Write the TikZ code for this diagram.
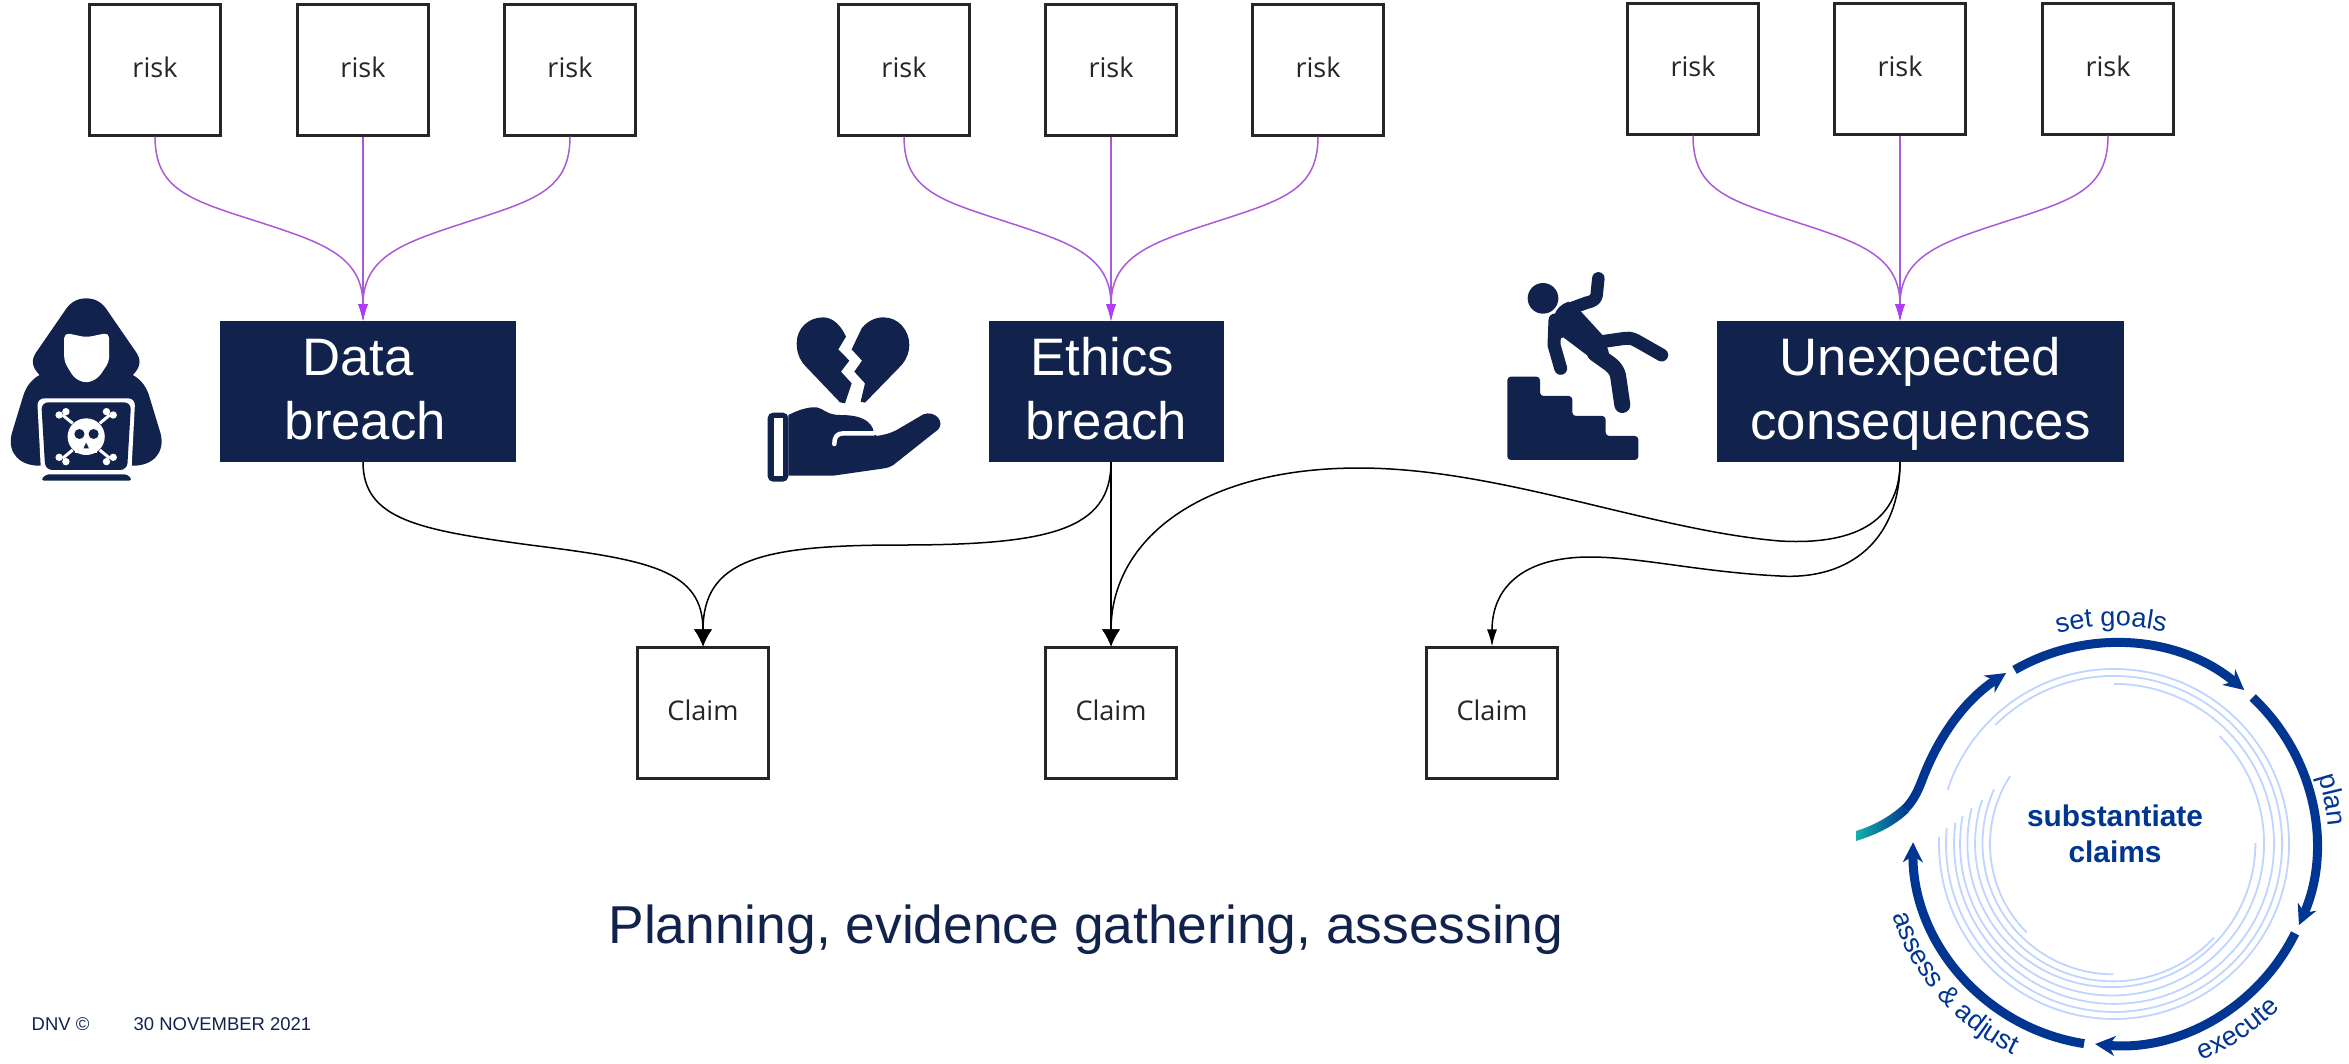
\documentclass[tikz,border=0pt]{standalone}
\usepackage{fontspec}
\setmainfont{Liberation Sans}
\newfontfamily\opensans{Open Sans}
\usetikzlibrary{arrows.meta,decorations.text}
\definecolor{navy}{HTML}{11224D}
\definecolor{cycleblue}{HTML}{003591}
\definecolor{ringblue}{HTML}{BDD5FF}
\definecolor{tailteal}{HTML}{14B0A8}
\definecolor{riskpurple}{HTML}{A95AD8}
\definecolor{tippurple}{HTML}{B23CF5}
\newcommand{\hazardtop}{\rule{0pt}{12.6pt}}
\newcommand{\hazardbot}{\rule[-3.3pt]{0pt}{1pt}}
\newcommand{\cyclefont}{\fontsize{7.7}{9}\selectfont}
\tikzset{
	riskbox/.style={draw=black!85,line width=.03cm,fill=white,minimum width=1.3cm,minimum height=1.3cm,inner sep=0,text height=5.9pt,text depth=1.7pt,font=\opensans\fontsize{7.7}{9}\selectfont,text=black!85},
	hazard/.style={fill=navy,text=white,minimum height=1.41cm,inner sep=0,align=center,font=\fontsize{15}{18.2}\selectfont},
	riskline/.style={draw=riskpurple,line width=.015cm,-{Latex[length=.17cm,width=.1cm,color=tippurple]}},
	claimline/.style={line width=.015cm,-{Latex[length=.17cm,width=.1cm]}},
	wideline/.style={line width=.015cm,-{Latex[length=.17cm,width=.18cm]}},
	cyclearc/.style={draw=cycleblue,line width=.09cm,-{Stealth[length=.2cm,width=.2cm]}},
	ring/.style={draw=ringblue,line width=.018cm},
	cycletext/.style={decorate,decoration={text along path,text align=center,text color=cycleblue,text={|\cyclefont|#1}}},
}
\begin{document}
\begin{tikzpicture}[x=.01cm,y=-.01cm]
	\useasboundingbox (0,0) rectangle (2349,1063);
	\node[riskbox] (R1) at (155,70) {risk};
	\node[riskbox] (R2) at (363,70) {risk};
	\node[riskbox] (R3) at (570,70) {risk};
	\node[riskbox] (R4) at (904,70) {risk};
	\node[riskbox] (R5) at (1111,70) {risk};
	\node[riskbox] (R6) at (1318,70) {risk};
	\node[riskbox] (R7) at (1693,69) {risk};
	\node[riskbox] (R8) at (1900,69) {risk};
	\node[riskbox] (R9) at (2108,69) {risk};
	\node[hazard,minimum width=2.95cm] (D) at (368,391.5) {\hazardtop Data\hspace*{.39em}\\breach\hspace*{.1em}\hazardbot};
	\node[hazard,minimum width=2.35cm] (E) at (1106.5,391.5) {\hazardtop Ethics\hspace*{.15em}\\breach\hazardbot};
	\node[hazard,minimum width=4.07cm] (U) at (1920.5,391.5) {\hazardtop Unexpected\\consequences\hazardbot};
	\node[riskbox] (C1) at (703,713) {Claim};
	\node[riskbox] (C2) at (1111,713) {Claim};
	\node[riskbox] (C3) at (1492,713) {Claim};
	\coordinate (Dt) at (363,321);
	\coordinate (Db) at (363,462);
	\coordinate (Et) at (1111,321);
	\coordinate (Eb) at (1111,462);
	\coordinate (Ut) at (1900,321);
	\coordinate (Ub) at (1900,462);
	% risks into the three breaches
	\draw[riskline] (R1.south) .. controls (155,190) and (190,200) .. (259,222) .. controls (320,242) and (363,255) .. (Dt);
	\draw[riskline] (R2.south) -- (Dt);
	\draw[riskline] (R3.south) .. controls (570,190) and (535,200) .. (467,222) .. controls (406,242) and (363,255) .. (Dt);
	\draw[riskline] (R4.south) .. controls (904,190) and (939,200) .. (1007,222) .. controls (1068,242) and (1111,255) .. (Et);
	\draw[riskline] (R5.south) -- (Et);
	\draw[riskline] (R6.south) .. controls (1318,190) and (1283,200) .. (1215,222) .. controls (1154,242) and (1111,255) .. (Et);
	\draw[riskline] (R7.south) .. controls (1693,190) and (1728,200) .. (1796,222) .. controls (1857,242) and (1900,255) .. (Ut);
	\draw[riskline] (R8.south) -- (Ut);
	\draw[riskline] (R9.south) .. controls (2108,190) and (2073,200) .. (2004,222) .. controls (1943,242) and (1900,255) .. (Ut);
	% breaches into the claims
	\draw[wideline] (Db) .. controls (363,520) and (420,530) .. (530,545) .. controls (650,560) and (703,570) .. (C1.north);
	\draw[wideline] (Eb) .. controls (1111,530) and (1050,545) .. (900,545) .. controls (760,545) and (703,560) .. (C1.north);
	\draw[wideline] (Eb) -- (C2.north);
	\draw[wideline] (Ub) .. controls (1900,525) and (1850,545) .. (1780,541) .. controls (1650,530) and (1500,468) .. (1359,468) .. controls (1200,468) and (1111,540) .. (C2.north);
	\draw[claimline] (Ub) .. controls (1900,540) and (1850,580) .. (1780,576) .. controls (1700,572) and (1640,557) .. (1590,557) .. controls (1520,557) and (1492,590) .. (C3.north);
	% hacker
	\begin{scope}[shift={(0,280)},xscale=.338,yscale=.3333]
		\fill[navy] (255,55) .. controls (225,55) and (205,70) .. (190,95) -- (105,220) .. controls (90,245) and (98,265) .. (117,285) .. controls (90,300) and (75,325) .. (68,350) -- (35,460) .. controls (20,520) and (60,557) .. (115,557) -- (395,557) .. controls (450,557) and (490,520) .. (475,460) -- (442,350) .. controls (435,325) and (420,300) .. (393,285) .. controls (412,265) and (420,245) .. (405,220) -- (320,95) .. controls (305,70) and (285,55) .. (255,55) -- cycle;
		\fill[white,rounded corners=1.5pt] (190,158) -- (255,172) -- (323,158) -- (323,245) -- (290,295) -- (255,310) -- (220,295) -- (190,245) -- cycle;
		\fill[white,rounded corners=2pt] (110,355) -- (400,355) -- (388,590) -- (122,590) -- cycle;
		\fill[navy,rounded corners=2pt] (122,367) -- (388,367) -- (376,570) -- (134,570) -- cycle;
		\fill[navy,rounded corners=1pt] (135,583) -- (378,583) -- (392,602) -- (120,602) -- cycle;
		\draw[white,line width=.03cm] (185,405) -- (215,430) (325,405) -- (295,430) (185,535) -- (215,510) (325,535) -- (295,510);
		\fill[white] (175,405) circle (11) (195,395) circle (11) (335,405) circle (11) (315,395) circle (11) (175,532) circle (11) (195,545) circle (11) (335,532) circle (11) (315,545) circle (11);
		\fill[white] (255,470) circle (55);
		\fill[white] (222,495) rectangle (288,518);
		\fill[navy] (235,462) circle (15) (277,462) circle (15) (255,488) -- (247,505) -- (263,505) -- cycle;
	\end{scope}
	% broken heart on a hand
	\begin{scope}[shift={(740,300)},scale=.3333]
		\fill[navy] (315,310) -- (300,307) -- (195,197) .. controls (175,175) and (170,150) .. (170,130) .. controls (170,85) and (205,52) .. (250,52) .. controls (280,52) and (305,80) .. (318,110) -- (295,148) -- (328,182) -- (303,215) -- (335,250) -- cycle;
		\fill[navy] (375,308) -- (362,305) -- (375,250) -- (343,215) -- (366,182) -- (335,148) -- (365,85) .. controls (385,60) and (410,52) .. (430,52) .. controls (475,52) and (508,90) .. (508,135) .. controls (508,155) and (500,178) .. (485,195) -- cycle;
		\fill[navy,rounded corners=1.5pt] (83,338) rectangle (145,545);
		\fill[white] (102,355) rectangle (128,528);
		\fill[navy] (145,345) .. controls (175,330) and (205,320) .. (230,322) .. controls (250,325) and (260,345) .. (300,345) .. controls (360,345) and (395,360) .. (402,398) -- (410,408) .. controls (440,403) and (450,400) .. (470,390) -- (550,343) .. controls (585,330) and (615,365) .. (595,388) -- (460,495) .. controls (445,505) and (430,505) .. (420,507) -- (280,527) -- (145,527) -- cycle;
		\draw[white,line width=.045cm,line cap=round] (402,400) -- (310,400) .. controls (290,400) and (283,412) .. (283,432);
	\end{scope}
	% falling man
	\begin{scope}[shift={(1480,260)},scale=.3333]
		\fill[navy] (189,115) circle (46);
		\draw[navy,line width=.125cm,line cap=round,line join=round] (355,55) -- (350,105) .. controls (348,120) and (335,125) .. (320,128) -- (260,150);
		\draw[navy,line width=.13cm,line cap=round,line join=round] (225,180) -- (222,255) -- (242,325);
		\fill[navy] (222,170) .. controls (228,145) and (245,132) .. (265,125) -- (305,157) -- (370,228) -- (385,272) -- (400,345) -- (250,232) -- (205,250) -- cycle;
		\draw[navy,line width=.13cm,line cap=round,line join=round] (365,245) -- (435,235) .. controls (455,232) and (465,240) .. (480,248) -- (545,285);
		\draw[navy,line width=.16cm,line cap=round,line join=round] (345,280) -- (390,312) .. controls (410,328) and (414,340) .. (416,360) -- (427,435);
		\fill[navy,rounded corners=1pt] (82,350) -- (180,350) -- (180,408) -- (277,408) -- (277,468) -- (377,468) -- (377,528) -- (475,528) -- (475,600) -- (82,600) -- cycle;
	\end{scope}
	\node[text=navy,anchor=base,font=\fontsize{15.17}{18}\selectfont] (P) at (1086,943) {Planning, evidence gathering, assessing};
	\node[text=navy,anchor=base west,inner sep=0,font=\fontsize{5.25}{6}\selectfont] (F1) at (31,1030) {DNV ©};
	\node[text=navy,anchor=base west,inner sep=0,font=\fontsize{5.25}{6}\selectfont] (F2) at (133,1030) {30 NOVEMBER 2021};
	% cycle
	\draw[cyclearc] (2115,844) ++(-120:201) arc (-120:-50:201);
	\draw[cyclearc] (2115,844) ++(-46.8:201) arc (-46.8:23.8:201);
	\draw[cyclearc] (2115,844) ++(26.4:201) arc (26.4:95.7:201);
	\draw[cyclearc] (2115,844) ++(98.8:202) arc (98.8:180.5:202);
	\draw[cyclearc] (1905,809) .. controls (1915,799) and (1919,788) .. (1924,775) .. controls (1940,735) and (1965,700) .. (2006,673);
	\shade[left color=tailteal,right color=cycleblue] (1856,831) .. controls (1872,826) and (1888,818) .. (1902,805.5) -- (1908.5,812.5) .. controls (1893,827) and (1875,835) .. (1856,841) -- cycle;
	\draw[ring] (2115,844) ++(182.4:176) arc (182.4:-162:175)
		(2115,844) ++(185.3:169) arc (185.3:-135:168)
		(2115,844) ++(187.6:161) arc (187.6:-90:160)
		(2115,844) ++(190.4:155) arc (190.4:-45:152)
		(2115,844) ++(194:147.7) arc (194:0:144)
		(2115,844) ++(198.3:140) arc (198.3:43:138)
		(2115,844) ++(204.3:132.7) arc (204.3:90:131)
		(2115,844) ++(212.9:125) arc (212.9:135:125);
	\path[cycletext={set goals}] (2115,844) ++(-111:218) arc (-111:-71:218);
	\path[cycletext={plan}] (2115,844) ++(-24:214) arc (-24:1:214);
	\path[cycletext={execute}] (2115,844) ++(80:233) arc (80:33:233);
	\path[cycletext={assess {\&} adjust}] (2115,844) ++(172:234) arc (172:106:234);
	\node[text=cycleblue,align=center,font=\bfseries\fontsize{8.5}{10.2}\selectfont] (S) at (2115,834) {substantiate\\claims};
\end{tikzpicture}
\end{document}
